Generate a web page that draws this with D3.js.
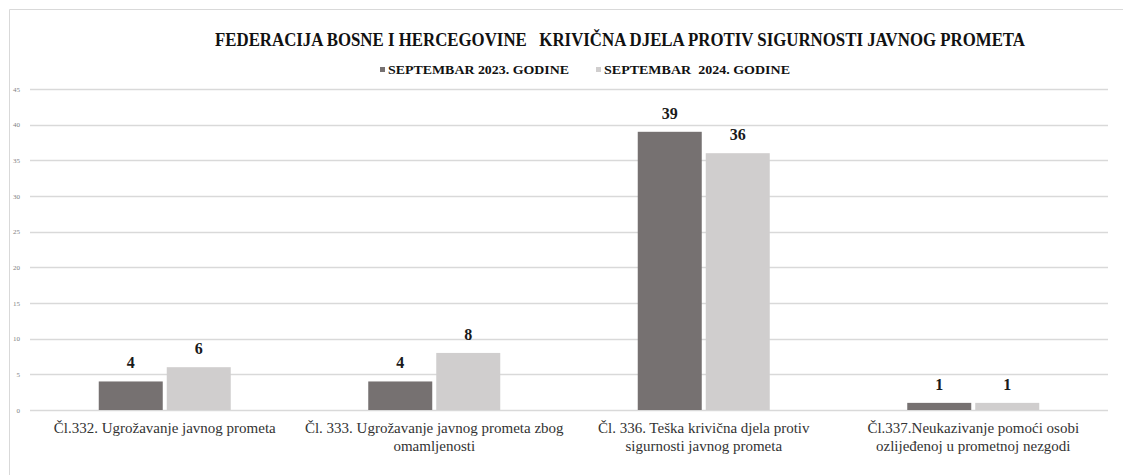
<!DOCTYPE html>
<html>
<head>
<meta charset="utf-8">
<script src="https://cdn.jsdelivr.net/npm/d3@7"></script>
<style>
	body { margin: 0; background: #ffffff; }
	svg { display: block; }
</style>
</head>
<body>
<div id="chart"></div>
<script>
"use strict";

// chart data
var categories = [
	["Čl.332. Ugrožavanje javnog prometa"],
	["Čl. 333. Ugrožavanje javnog prometa zbog", "omamljenosti"],
	["Čl. 336. Teška krivična djela protiv", "sigurnosti javnog prometa"],
	["Čl.337.Neukazivanje pomoći osobi", "ozlijeđenoj u prometnoj nezgodi"]
];
var seriesNames = ["SEPTEMBAR 2023. GODINE", "SEPTEMBAR  2024. GODINE"];
var values2023 = [4, 4, 39, 1];
var values2024 = [6, 8, 36, 1];
var yTicks = [0, 5, 10, 15, 20, 25, 30, 35, 40, 45];

var width = 1123, height = 475;
var colors = ["#767171", "#d0cece"];
var serif = "'Liberation Serif', 'DejaVu Serif', serif";

var svg = d3.select("#chart")
	.append("svg")
	.attr("width", width)
	.attr("height", height)
	.style("background", "#ffffff");

// chart frame
svg.append("path")
	.attr("d", "M9.5," + height + " L9.5,9.5 L" + width + ",9.5")
	.style("fill", "none")
	.style("stroke", "#d9d9d9")
	.style("stroke-width", 1);

var x = d3.scaleBand()
	.domain(d3.range(categories.length))
	.range([30, 1108])
	.paddingInner(0)
	.paddingOuter(0);

var y = d3.scaleLinear()
	.domain([0, 45])
	.range([410, 89]);

// gridlines
svg.selectAll(".grid").data(yTicks)
	.enter().append("line")
	.attr("class", "grid")
	.attr("x1", 30)
	.attr("x2", 1108)
	.attr("y1", d => Math.round(y(d)) + 0.5)
	.attr("y2", d => Math.round(y(d)) + 0.5)
	.style("stroke", "#d9d9d9")
	.style("stroke-width", 1.3);

// y axis labels
svg.selectAll(".ytick").data(yTicks)
	.enter().append("text")
	.attr("class", "ytick")
	.attr("x", 20)
	.attr("y", d => y(d) + 2.5)
	.style("text-anchor", "end")
	.style("font-family", serif)
	.style("font-size", "7px")
	.style("fill", "#7f7f7f")
	.text(d => d);

var barW = 64, gap = 4;
var series = [values2023, values2024];

series.forEach(function (vals, s) {
	var g = svg.append("g");
	g.selectAll("rect").data(vals)
		.enter().append("rect")
		.attr("x", (d, i) => x(i) + x.bandwidth() / 2 + (s === 0 ? -gap / 2 - barW : gap / 2))
		.attr("y", d => y(d))
		.attr("width", barW)
		.attr("height", d => y(0) - y(d))
		.style("fill", colors[s]);

	g.selectAll("text").data(vals)
		.enter().append("text")
		.attr("x", (d, i) => x(i) + x.bandwidth() / 2 + (s === 0 ? -gap / 2 - barW / 2 : gap / 2 + barW / 2))
		.attr("y", d => y(d) - 13)
		.style("text-anchor", "middle")
		.style("font-family", serif)
		.style("font-weight", "bold")
		.style("font-size", "16px")
		.style("fill", "#1a1a1a")
		.text(d => d);
});

// category labels
categories.forEach(function (lines, i) {
	var t = svg.append("text")
		.attr("x", x(i) + x.bandwidth() / 2)
		.attr("y", 433)
		.style("text-anchor", "middle")
		.style("font-family", serif)
		.style("font-size", "15px")
		.style("fill", "#333333");
	lines.forEach(function (line, k) {
		t.append("tspan")
			.attr("x", x(i) + x.bandwidth() / 2)
			.attr("dy", k === 0 ? 0 : 18)
			.text(line);
	});
});

// title
svg.append("text")
	.attr("x", 215)
	.attr("y", 46)
	.attr("textLength", 810)
	.attr("lengthAdjust", "spacingAndGlyphs")
	.style("white-space", "pre")
	.style("font-family", serif)
	.style("font-weight", "bold")
	.style("font-size", "18px")
	.style("fill", "#111111")
	.text("FEDERACIJA BOSNE I HERCEGOVINE   KRIVIČNA DJELA PROTIV SIGURNOSTI JAVNOG PROMETA");

// legend
var legendItems = [
	{ name: seriesNames[0], color: colors[0], mx: 380, tx: 388, tw: 181 },
	{ name: seriesNames[1], color: colors[1], mx: 596, tx: 604, tw: 186 }
];
legendItems.forEach(function (d) {
	svg.append("rect")
		.attr("x", d.mx)
		.attr("y", 67)
		.attr("width", 5)
		.attr("height", 5)
		.style("fill", d.color);
	svg.append("text")
		.attr("x", d.tx)
		.attr("y", 74)
		.attr("textLength", d.tw)
		.attr("lengthAdjust", "spacingAndGlyphs")
		.style("white-space", "pre")
		.style("font-family", serif)
		.style("font-weight", "bold")
		.style("font-size", "13px")
		.style("fill", "#111111")
		.text(d.name);
});
</script>
</body>
</html>
